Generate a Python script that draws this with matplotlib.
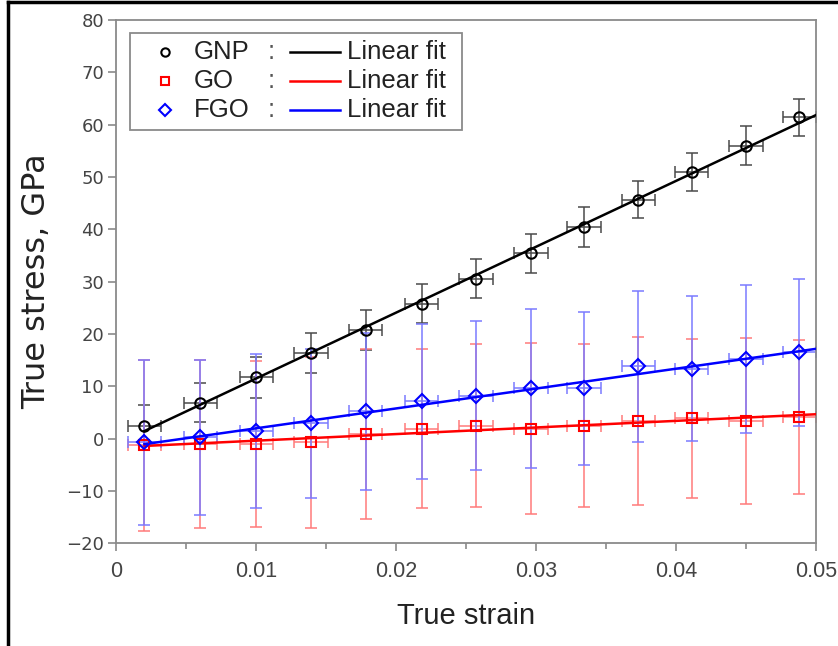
import numpy as np
import matplotlib
matplotlib.use("Agg")
import matplotlib.pyplot as plt
from matplotlib.lines import Line2D
from matplotlib.patches import Rectangle

# true strain of each sample point
strain = [0.0020, 0.0060, 0.0100, 0.0139, 0.0178, 0.0218, 0.0257,
          0.0296, 0.0334, 0.0373, 0.0411, 0.0450, 0.0488]
strain_err = 0.0012

gnp_stress = [2.5, 6.9, 11.7, 16.3, 20.8, 25.8, 30.6, 35.4, 40.5, 45.7, 50.9, 56.0, 61.4]
gnp_err = [4.0, 3.8, 3.9, 3.8, 3.8, 3.7, 3.7, 3.8, 3.8, 3.6, 3.6, 3.7, 3.5]

go_stress = [-1.3, -1.0, -1.0, -0.7, 0.9, 1.9, 2.5, 1.9, 2.5, 3.4, 3.9, 3.4, 4.1]
go_err = [16.3, 16.1, 15.8, 16.3, 16.3, 15.2, 15.5, 16.3, 15.6, 16.1, 15.2, 15.9, 14.7]

fgo_stress = [-0.7, 0.3, 1.5, 2.9, 5.2, 7.1, 8.2, 9.6, 9.6, 13.8, 13.4, 15.2, 16.5]
fgo_err = [15.8, 14.8, 14.7, 14.2, 15.0, 14.8, 14.2, 15.2, 14.6, 14.5, 13.8, 14.2, 14.0]

names = ["GNP", "GO", "FGO"]
colors = ["black", "red", "blue"]
bar_colors = ["#4a4a4a", "#ff7a7a", "#7a7aff"]
markers = ["o", "s", "D"]

fig = plt.figure(figsize=(8.38, 6.46), dpi=100)
ax = fig.add_axes([0.139, 0.159, 0.835, 0.810])

series = [(gnp_stress, gnp_err), (go_stress, go_err), (fgo_stress, fgo_err)]
for (y, yerr), c, ec, m in zip(series, colors, bar_colors, markers):
    x = np.array(strain)
    y = np.array(y)
    ax.errorbar(x, y, yerr=yerr, xerr=strain_err, fmt="none", ecolor=ec,
                elinewidth=1.1, capsize=4, capthick=1.1, zorder=2)
    k, b = np.polyfit(x, y, 1)
    xf = np.array([x[0], 0.05])
    ax.plot(xf, k * xf + b, color=c, lw=1.8, zorder=3)
    ax.plot(x, y, ls="none", marker=m, ms=7.5 if m != "D" else 7,
            mfc="none", mec=c, mew=1.5, zorder=4)

ax.set_xlim(0, 0.05)
ax.set_ylim(-20, 80)
ax.set_xticks([0, 0.01, 0.02, 0.03, 0.04, 0.05])
ax.set_xticklabels(["0", "0.01", "0.02", "0.03", "0.04", "0.05"])
ax.set_xticks([0.005, 0.015, 0.025, 0.035, 0.045], minor=True)
ax.set_yticks(range(-20, 81, 10))
ax.set_yticklabels(["\u221220", "\u221210", "0", "10", "20", "30", "40",
                    "50", "60", "70", "80"])

for s in ax.spines.values():
    s.set_color("#8a8a8a")
    s.set_linewidth(1.3)
ax.tick_params(axis="both", which="both", direction="out", color="#8a8a8a",
               width=1.2, labelcolor="#444444")
ax.tick_params(axis="both", which="major", length=6)
ax.tick_params(axis="x", which="minor", length=4)
ax.tick_params(axis="x", labelsize=15.5, pad=7)
ax.tick_params(axis="y", labelsize=13, pad=3)
for lab in ax.get_xticklabels():
    lab.set_family("Liberation Sans")

ax.set_xlabel("True strain", fontsize=21, family="Liberation Sans",
              color="#222222", labelpad=14)
ax.set_ylabel("True stress, GPa", fontsize=23, family="DejaVu Sans",
              color="#222222", labelpad=10)

# legend drawn by hand: marker, name, colon, fit line, text
ax.add_patch(Rectangle((0.019, 0.790), 0.475, 0.185, transform=ax.transAxes,
                       fill=True, facecolor="white", edgecolor="#8a8a8a",
                       lw=1.3, zorder=6))
rows = [0.939, 0.883, 0.828]
for yy, n, c, m in zip(rows, names, colors, markers):
    ax.add_line(Line2D([0.069], [yy], transform=ax.transAxes, marker=m,
                       ms=6, mfc="none", mec=c, mew=1.5,
                       ls="none", zorder=7))
    ax.text(0.110, yy, n, transform=ax.transAxes, fontsize=18.5,
            family="Liberation Sans", color="#222222", va="center", zorder=7)
    ax.text(0.221, yy, ":", transform=ax.transAxes, fontsize=18.5,
            family="Liberation Sans", color="#555555", va="center",
            ha="center", zorder=7)
    ax.add_line(Line2D([0.248, 0.320], [yy, yy], transform=ax.transAxes,
                       color=c, lw=1.8, zorder=7))
    ax.text(0.330, yy, "Linear fit", transform=ax.transAxes, fontsize=18.5,
            family="Liberation Sans", color="#222222", va="center", zorder=7)

# black frame on the top and left of the image
fig.add_artist(Line2D([0.009, 0.009], [0.0, 0.997], color="black", lw=2.5,
                      transform=fig.transFigure))
fig.add_artist(Line2D([0.009, 1.0], [0.997, 0.997], color="black", lw=2.5,
                      transform=fig.transFigure))

plt.savefig("out.png", dpi=100, facecolor="white")
